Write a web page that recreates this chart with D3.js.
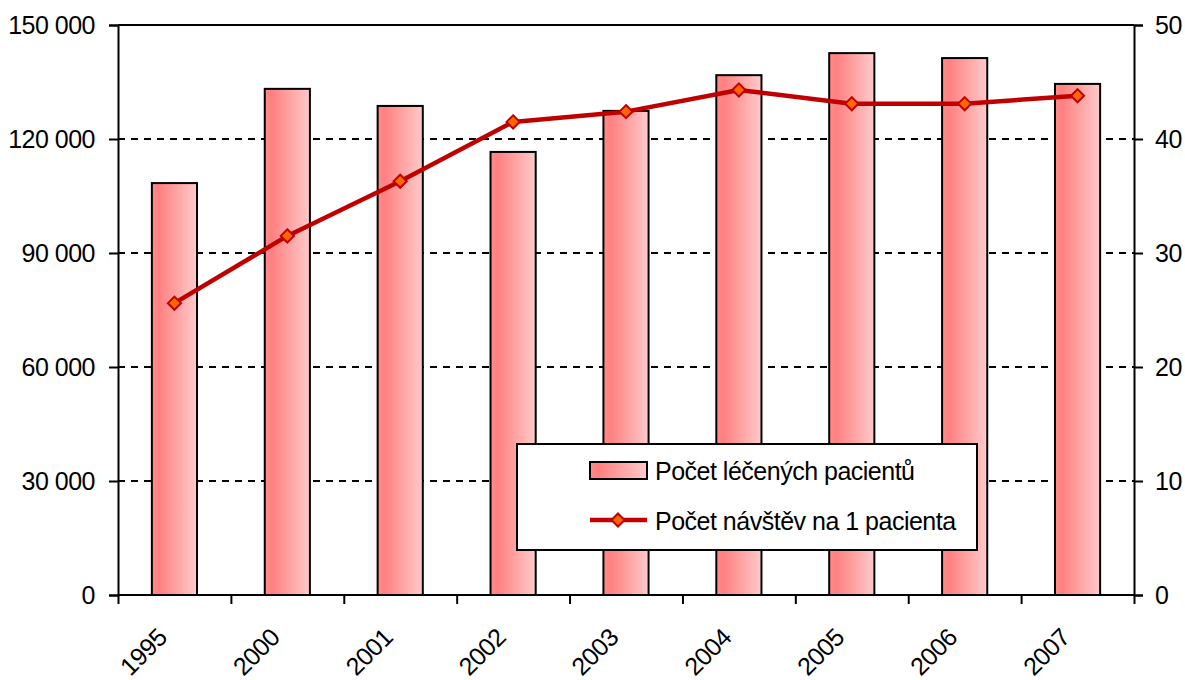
<!DOCTYPE html>
<html>
<head>
<meta charset="utf-8">
<script src="https://cdn.jsdelivr.net/npm/d3@7"></script>
<style>
  body { margin: 0; background: #fff; }
  svg { display: block; font-family: "Liberation Sans", Arial, sans-serif; }
  svg text { letter-spacing: -0.5px; }
</style>
</head>
<body>
<svg width="1185" height="680"></svg>
<script>
// data
let years = ["1995", "2000", "2001", "2002", "2003", "2004", "2005", "2006", "2007"];
let patients = [108400, 133200, 128700, 116600, 127400, 136800, 142600, 141300, 134500];
let visits = [25.6, 31.5, 36.3, 41.5, 42.4, 44.3, 43.1, 43.1, 43.8];
let leftTicks = [0, 30000, 60000, 90000, 120000, 150000];
let rightTicks = [0, 10, 20, 30, 40, 50];
let barLabel = "Počet léčených pacientů";
let lineLabel = "Počet návštěv na 1 pacienta";

let svg = d3.select("svg");
let plotLeft = 118, plotRight = 1134, plotTop = 25, plotBottom = 595;
let fontSize = 25;

let x = d3.scaleBand().domain(years).range([plotLeft, plotRight]).paddingInner(0).paddingOuter(0);
let yL = d3.scaleLinear().domain([0, 150000]).range([plotBottom, plotTop]);
let yR = d3.scaleLinear().domain([0, 50]).range([plotBottom, plotTop]);

let fmt = d => d3.format(",")(d).replace(/,/g, " ");

// gradient for the bars
let grad = svg.append("defs")
  .append("linearGradient")
  .attr("id", "barGrad")
  .attr("x1", "0%").attr("x2", "100%").attr("y1", "0%").attr("y2", "0%");
grad.append("stop").attr("offset", "0%").attr("stop-color", "#ff8c8c");
grad.append("stop").attr("offset", "15%").attr("stop-color", "#ff8080");
grad.append("stop").attr("offset", "100%").attr("stop-color", "#ffcaca");

// dashed gridlines
svg.append("g")
  .selectAll("line")
  .data(leftTicks.filter(d => d > 0 && d < 150000))
  .enter()
  .append("line")
  .attr("x1", plotLeft).attr("x2", plotRight)
  .attr("y1", d => yL(d)).attr("y2", d => yL(d))
  .attr("stroke", "#000")
  .attr("stroke-width", 2)
  .attr("stroke-dasharray", "7,6");

// top border
svg.append("line")
  .attr("x1", plotLeft).attr("x2", plotRight)
  .attr("y1", yL(150000)).attr("y2", yL(150000))
  .attr("stroke", "#000").attr("stroke-width", 2);

// bars
let bw = x.bandwidth() * 0.4;
svg.append("g")
  .selectAll("rect")
  .data(years)
  .enter()
  .append("rect")
  .attr("x", d => x(d) + x.bandwidth() / 2 - bw / 2)
  .attr("y", (d, i) => yL(patients[i]))
  .attr("width", bw)
  .attr("height", (d, i) => plotBottom - yL(patients[i]))
  .attr("fill", "url(#barGrad)")
  .attr("stroke", "#000")
  .attr("stroke-width", 2);

// left axis
let axL = svg.append("g")
  .attr("transform", `translate(${plotLeft},0)`)
  .call(d3.axisLeft(yL).tickValues(leftTicks).tickFormat(fmt).tickSize(9).tickPadding(14));
// right axis
let axR = svg.append("g")
  .attr("transform", `translate(${plotRight},0)`)
  .call(d3.axisRight(yR).tickValues(rightTicks).tickSize(9).tickPadding(12));
// x axis, ticks at category boundaries
let bounds = years.map(d => x(d)).concat([plotRight]);
let axX = svg.append("g")
  .attr("transform", `translate(0,${plotBottom})`)
  .call(d3.axisBottom(d3.scaleLinear().domain([plotLeft, plotRight]).range([plotLeft, plotRight]))
    .tickValues(bounds).tickFormat("").tickSize(9));

[axL, axR, axX].forEach(ax => {
  ax.select(".domain").attr("stroke", "#000").attr("stroke-width", 2);
  ax.selectAll(".tick line").attr("stroke", "#000").attr("stroke-width", 2);
  ax.selectAll("text").attr("fill", "#000").style("font-size", fontSize + "px")
    .style("font-family", "'Liberation Sans', Arial, sans-serif");
});
axX.select(".domain").attr("d", `M${plotLeft},0H${plotRight}`);

// year labels rotated
svg.append("g")
  .selectAll("text")
  .data(years)
  .enter()
  .append("text")
  .attr("transform", d => `translate(${x(d) + x.bandwidth() / 2 - 6},${plotBottom + 44}) rotate(-45)`)
  .attr("text-anchor", "end")
  .style("font-size", fontSize + "px")
  .text(d => d);

// line series
let line = d3.line()
  .x((d, i) => x(years[i]) + x.bandwidth() / 2)
  .y(d => yR(d));

svg.append("path")
  .datum(visits)
  .attr("d", line)
  .attr("fill", "none")
  .attr("stroke", "#c00000")
  .attr("stroke-width", 4.5)
  .attr("stroke-linejoin", "round");

let diamond = d3.symbol().type(d3.symbolDiamond2).size(110);
svg.append("g")
  .selectAll("path")
  .data(visits)
  .enter()
  .append("path")
  .attr("d", diamond)
  .attr("transform", (d, i) => `translate(${x(years[i]) + x.bandwidth() / 2},${yR(d)})`)
  .attr("fill", "#ff6600")
  .attr("stroke", "#c00000")
  .attr("stroke-width", 2);

// legend
let legend = svg.append("g").attr("transform", "translate(517,444)");
legend.append("rect")
  .attr("width", 460).attr("height", 106)
  .attr("fill", "#fff").attr("stroke", "#000").attr("stroke-width", 2);
legend.append("rect")
  .attr("x", 73).attr("y", 18).attr("width", 57).attr("height", 17)
  .attr("fill", "url(#barGrad)").attr("stroke", "#000").attr("stroke-width", 2);
legend.append("text")
  .attr("x", 138).attr("y", 36)
  .style("font-size", fontSize + "px")
  .text(barLabel);
legend.append("line")
  .attr("x1", 73).attr("x2", 130).attr("y1", 76).attr("y2", 76)
  .attr("stroke", "#c00000").attr("stroke-width", 4.5);
legend.append("path")
  .attr("d", diamond)
  .attr("transform", "translate(101,76)")
  .attr("fill", "#ff6600").attr("stroke", "#c00000").attr("stroke-width", 2);
legend.append("text")
  .attr("x", 138).attr("y", 86)
  .style("font-size", fontSize + "px")
  .text(lineLabel);
</script>
</body>
</html>
